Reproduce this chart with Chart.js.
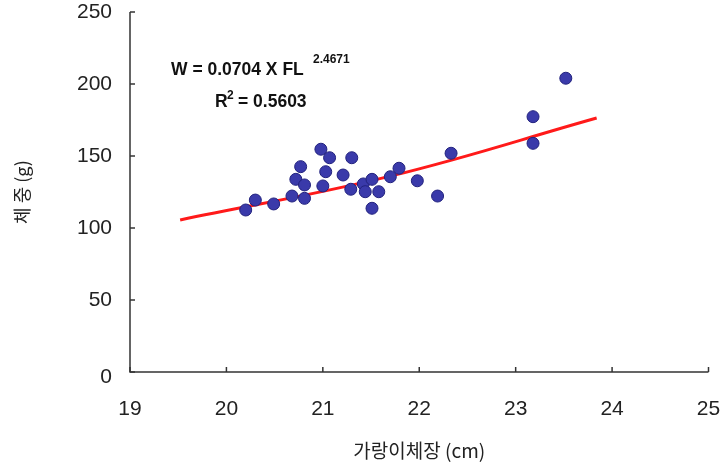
<!DOCTYPE html>
<html>
<head>
<meta charset="utf-8">
<script src="https://cdn.jsdelivr.net/npm/chart.js@4"></script>
<style>
  html, body { margin: 0; padding: 0; background: #fff; }
  #wrap { width: 720px; height: 474px; }
</style>
</head>
<body>
<div id="wrap"><canvas id="scatterChart"></canvas></div>
<script>
// fork length (cm) vs weight (g)
var lengths = [20.2, 20.3, 20.49, 20.68, 20.81, 20.72, 20.77, 20.81, 20.98, 21.07,
  21.03, 21.0, 21.21, 21.3, 21.29, 21.42, 21.44, 21.51, 21.58, 21.51,
  21.7, 21.79, 21.98, 22.19, 22.33, 23.52, 23.18, 23.18];
var weights = [112.5, 119.4, 116.7, 122.2, 120.6, 133.8, 142.6, 129.9, 154.7, 148.8,
  139.1, 129.2, 136.8, 148.8, 126.9, 130.6, 125.2, 133.8, 125.2, 113.7,
  135.6, 141.5, 132.8, 122.2, 151.9, 204.0, 177.3, 158.8];
// fitted curve
var trendX = [19.52, 21.7, 23.84];
var trendY = [105.6, 136, 176.4];
var xTicks = [19, 20, 21, 22, 23, 24, 25];
var yTicks = [0, 50, 100, 150, 200, 250];

var points = lengths.map(function (x, i) { return { x: x, y: weights[i] }; });
var trend = trendX.map(function (x, i) { return { x: x, y: trendY[i] }; });

var labelFont = "21px 'Liberation Sans', Arial, sans-serif";

// axis lines, inward ticks, tick labels and the regression text
var axesPlugin = {
  id: "axesPlugin",
  afterDraw: function (chart) {
    var ctx = chart.ctx;
    var xs = chart.scales.x, ys = chart.scales.y;
    var left = xs.left, bottom = ys.bottom;
    ctx.save();
    ctx.strokeStyle = "#333";
    ctx.lineWidth = 1.5;
    ctx.beginPath();
    ctx.moveTo(left, ys.top);
    ctx.lineTo(left, bottom);
    ctx.lineTo(xs.right, bottom);
    ctx.stroke();

    ctx.fillStyle = "#222";
    ctx.font = labelFont;
    ctx.textBaseline = "middle";
    ctx.textAlign = "right";
    yTicks.forEach(function (v) {
      var py = ys.getPixelForValue(v);
      ctx.beginPath();
      ctx.moveTo(left, py);
      ctx.lineTo(left + 5, py);
      ctx.stroke();
      ctx.fillText(String(v), left - 18, py + (v === 0 ? 5 : 0));
    });
    ctx.textAlign = "center";
    xTicks.forEach(function (v) {
      var px = xs.getPixelForValue(v);
      ctx.beginPath();
      ctx.moveTo(px, bottom);
      ctx.lineTo(px, bottom - 5);
      ctx.stroke();
      ctx.fillText(String(v), px, bottom + 37);
    });

    ctx.fillStyle = "#111";
    ctx.textAlign = "left";
    ctx.textBaseline = "alphabetic";
    ctx.font = "bold 17.5px 'Liberation Sans', Arial, sans-serif";
    ctx.fillText("W = 0.0704 X FL", 171, 75);
    ctx.fillText("R", 215, 107);
    ctx.fillText("= 0.5603", 238, 107);
    ctx.font = "bold 12px 'Liberation Sans', Arial, sans-serif";
    ctx.fillText("2.4671", 313, 63);
    ctx.fillText("2", 227, 99);
    ctx.restore();
  },
};

var ctxS = document.getElementById("scatterChart").getContext("2d");
var myChart = new Chart(ctxS, {
  type: "scatter",
  data: {
    datasets: [
      {
        label: "data",
        data: points,
        backgroundColor: "#3a3aaa",
        borderColor: "#22227e",
        borderWidth: 1,
        pointRadius: 6,
        order: 1,
      },
      {
        label: "fit",
        type: "line",
        data: trend,
        borderColor: "#ff1a1a",
        borderWidth: 3,
        pointRadius: 0,
        tension: 0.4,
        fill: false,
        order: 2,
      },
    ],
  },
  options: {
    responsive: true,
    maintainAspectRatio: false,
    animation: false,
    layout: { padding: { top: 12, right: 11.5, left: 0, bottom: 0 } },
    plugins: {
      legend: { display: false },
      tooltip: { enabled: false },
    },
    scales: {
      x: {
        type: "linear",
        min: 19,
        max: 25,
        afterFit: function (scale) { scale.height = 102; },
        grid: { display: false, drawTicks: false },
        border: { display: false },
        ticks: { display: false },
        title: {
          display: true,
          text: "가랑이체장 (cm)",
          color: "#222",
          padding: { top: 0, bottom: 12 },
          font: { family: "'Noto Sans CJK KR', sans-serif", size: 19 },
        },
      },
      y: {
        type: "linear",
        min: 0,
        max: 250,
        afterFit: function (scale) { scale.width = 130; },
        grid: { display: false, drawTicks: false },
        border: { display: false },
        ticks: { display: false },
        title: {
          display: true,
          text: "체 중 (g)",
          color: "#222",
          padding: { top: 11, bottom: 0 },
          font: { family: "'Noto Sans CJK KR', sans-serif", size: 18 },
        },
      },
    },
  },
  plugins: [axesPlugin],
});
</script>
</body>
</html>
